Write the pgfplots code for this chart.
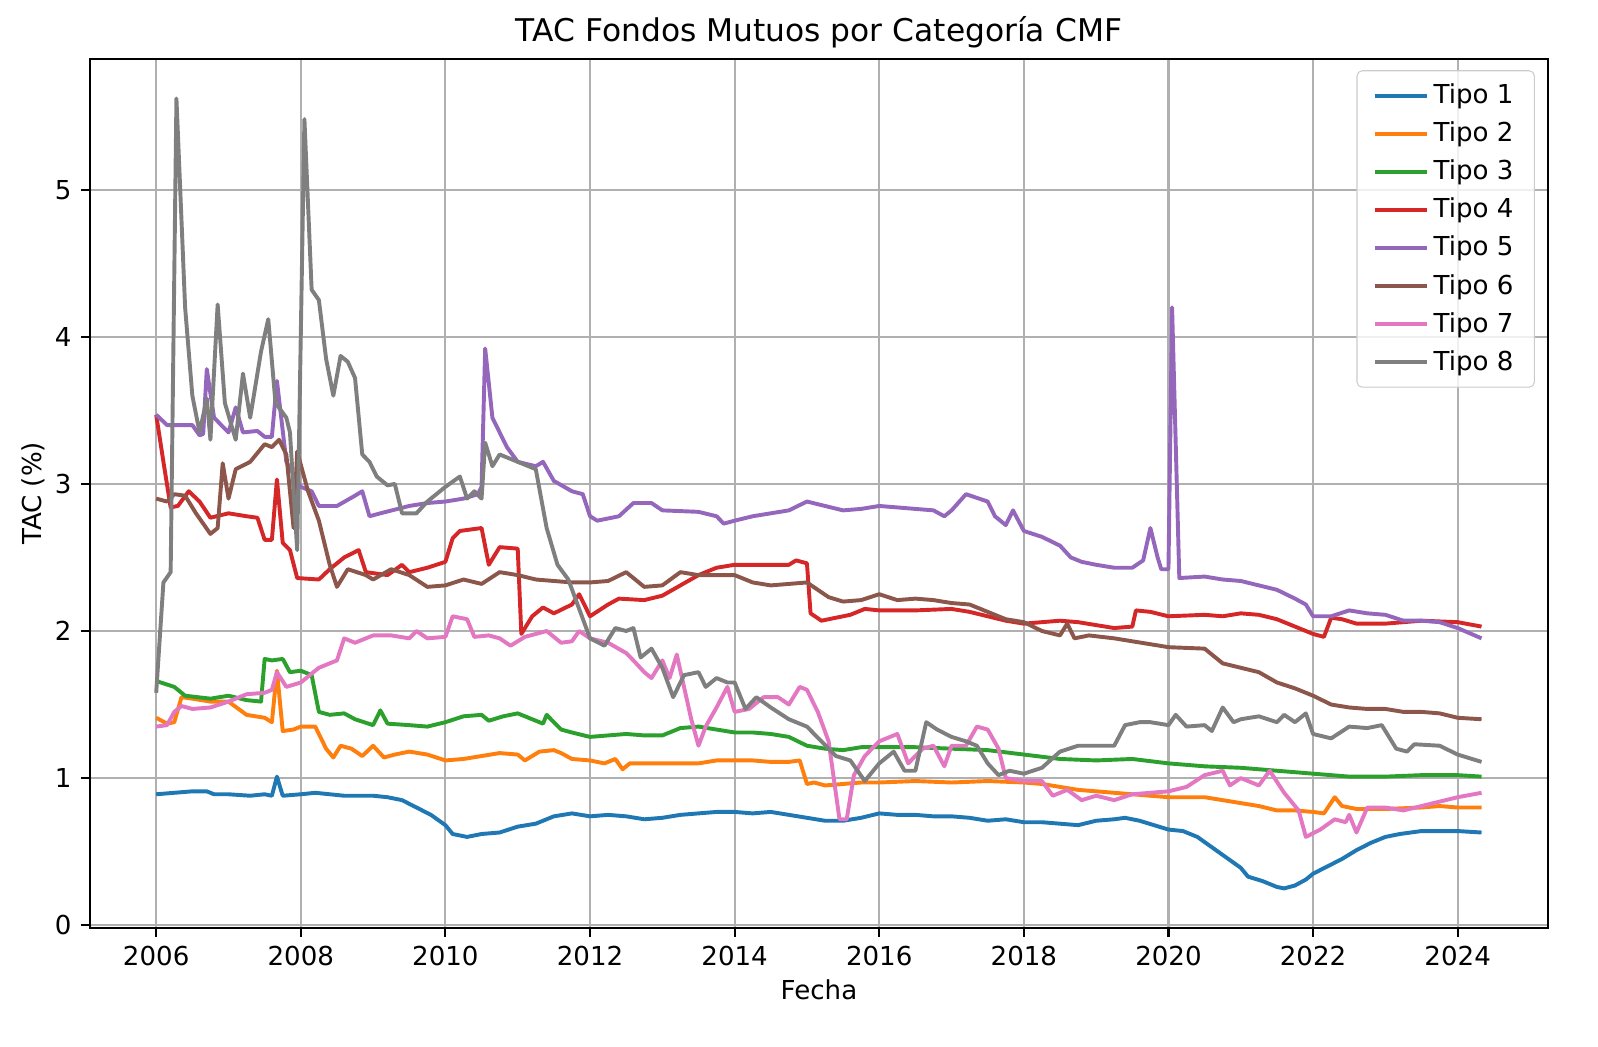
\documentclass[border=0pt]{standalone}
\usepackage{fontspec}
\setmainfont{DejaVu Sans}
\usepackage{pgfplots}
\pgfplotsset{compat=1.18}
\definecolor{c1}{HTML}{1F77B4}
\definecolor{c2}{HTML}{FF7F0E}
\definecolor{c3}{HTML}{2CA02C}
\definecolor{c4}{HTML}{D62728}
\definecolor{c5}{HTML}{9467BD}
\definecolor{c6}{HTML}{8C564B}
\definecolor{c7}{HTML}{E377C2}
\definecolor{c8}{HTML}{7F7F7F}
\definecolor{gridc}{HTML}{B0B0B0}
\begin{document}
\begin{tikzpicture}
\begin{axis}[
  scale only axis, width=7.733in, height=4.608in,
  xmin=2005.083, xmax=2025.25, ymin=-0.018, ymax=5.889,
  xtick={2006,2008,...,2024}, ytick={0,1,2,3,4,5},
  /pgf/number format/1000 sep={},
  /pgf/number format/assume math mode=true,
  tick label style={font=\fontsize{10}{12}\selectfont},
  tick align=outside, tick pos=left,
  major tick length=3.5pt,
  every tick/.style={black, line width=0.8pt},
  axis line style={line width=0.8pt},
  grid=major, major grid style={gridc, line width=0.8pt},
  title={TAC Fondos Mutuos por Categoría CMF},
  title style={font=\fontsize{12}{14}\selectfont, at={(0.5,1)}, anchor=base, yshift=0.5pt},
  xlabel={Fecha}, ylabel={TAC (\%)},
  label style={font=\fontsize{10}{12}\selectfont},
  xlabel style={yshift=1.5pt},
  ylabel style={yshift=-3pt},
  every axis plot/.append style={line width=1.5pt, line join=round},
  legend style={at={(0.991,0.987)}, anchor=north east, draw=black!20, rounded corners=2pt,
    fill=white, fill opacity=0.8, text opacity=1, font=\fontsize{10}{12}\selectfont,
    row sep=1.5pt, inner xsep=6pt, inner ysep=3pt},
  legend cell align=left,
  legend image code/.code={\draw[#1] (0cm,0cm) -- (0.7cm,0cm);},
]
\addplot[c1] coordinates {(2006.0,0.89)(2006.25,0.90)(2006.5,0.91)(2006.7,0.91)(2006.8,0.89)(2007.0,0.89)(2007.3,0.88)(2007.5,0.89)(2007.6,0.88)(2007.67,1.01)(2007.75,0.88)(2008.0,0.89)(2008.2,0.90)(2008.4,0.89)(2008.6,0.88)(2008.8,0.88)(2009.0,0.88)(2009.2,0.87)(2009.4,0.85)(2009.6,0.80)(2009.8,0.75)(2010.0,0.68)(2010.1,0.62)(2010.3,0.60)(2010.5,0.62)(2010.75,0.63)(2011.0,0.67)(2011.25,0.69)(2011.5,0.74)(2011.75,0.76)(2012.0,0.74)(2012.25,0.75)(2012.5,0.74)(2012.75,0.72)(2013.0,0.73)(2013.25,0.75)(2013.5,0.76)(2013.75,0.77)(2014.0,0.77)(2014.25,0.76)(2014.5,0.77)(2014.75,0.75)(2015.0,0.73)(2015.25,0.71)(2015.5,0.71)(2015.75,0.73)(2016.0,0.76)(2016.25,0.75)(2016.5,0.75)(2016.75,0.74)(2017.0,0.74)(2017.25,0.73)(2017.5,0.71)(2017.75,0.72)(2018.0,0.70)(2018.25,0.70)(2018.5,0.69)(2018.75,0.68)(2019.0,0.71)(2019.25,0.72)(2019.4,0.73)(2019.6,0.71)(2019.8,0.68)(2020.0,0.65)(2020.2,0.64)(2020.4,0.60)(2020.6,0.53)(2020.8,0.46)(2021.0,0.39)(2021.1,0.33)(2021.3,0.30)(2021.5,0.26)(2021.6,0.25)(2021.75,0.27)(2021.9,0.31)(2022.0,0.35)(2022.2,0.40)(2022.4,0.45)(2022.6,0.51)(2022.8,0.56)(2023.0,0.60)(2023.2,0.62)(2023.5,0.64)(2023.75,0.64)(2024.0,0.64)(2024.33,0.63)};
\addlegendentry{Tipo 1}
\addplot[c2] coordinates {(2006.0,1.41)(2006.15,1.37)(2006.25,1.38)(2006.35,1.55)(2006.5,1.54)(2006.75,1.52)(2007.0,1.52)(2007.25,1.43)(2007.5,1.41)(2007.6,1.38)(2007.67,1.73)(2007.75,1.32)(2007.9,1.33)(2008.0,1.35)(2008.2,1.35)(2008.35,1.20)(2008.45,1.14)(2008.55,1.22)(2008.7,1.20)(2008.85,1.15)(2009.0,1.22)(2009.15,1.14)(2009.3,1.16)(2009.5,1.18)(2009.75,1.16)(2010.0,1.12)(2010.25,1.13)(2010.5,1.15)(2010.75,1.17)(2011.0,1.16)(2011.1,1.12)(2011.3,1.18)(2011.5,1.19)(2011.6,1.17)(2011.75,1.13)(2012.0,1.12)(2012.2,1.10)(2012.35,1.13)(2012.45,1.06)(2012.55,1.10)(2012.75,1.10)(2013.0,1.10)(2013.25,1.10)(2013.5,1.10)(2013.75,1.12)(2014.0,1.12)(2014.25,1.12)(2014.5,1.11)(2014.75,1.11)(2014.9,1.12)(2015.0,0.96)(2015.1,0.97)(2015.25,0.95)(2015.5,0.96)(2015.75,0.97)(2016.0,0.97)(2016.5,0.98)(2017.0,0.97)(2017.5,0.98)(2018.0,0.97)(2018.25,0.96)(2018.5,0.94)(2018.75,0.92)(2019.0,0.91)(2019.5,0.89)(2020.0,0.87)(2020.5,0.87)(2020.75,0.85)(2021.0,0.83)(2021.25,0.81)(2021.5,0.78)(2021.75,0.78)(2022.0,0.77)(2022.15,0.76)(2022.3,0.87)(2022.4,0.81)(2022.6,0.79)(2023.0,0.79)(2023.5,0.80)(2023.75,0.81)(2024.0,0.80)(2024.33,0.80)};
\addlegendentry{Tipo 2}
\addplot[c3] coordinates {(2006.0,1.66)(2006.25,1.62)(2006.4,1.56)(2006.75,1.54)(2007.0,1.56)(2007.25,1.53)(2007.45,1.52)(2007.5,1.81)(2007.6,1.80)(2007.75,1.81)(2007.85,1.72)(2008.0,1.73)(2008.15,1.70)(2008.25,1.45)(2008.4,1.43)(2008.6,1.44)(2008.75,1.40)(2009.0,1.36)(2009.1,1.46)(2009.2,1.37)(2009.5,1.36)(2009.75,1.35)(2010.0,1.38)(2010.25,1.42)(2010.5,1.43)(2010.6,1.39)(2010.8,1.42)(2011.0,1.44)(2011.2,1.40)(2011.35,1.37)(2011.4,1.43)(2011.6,1.33)(2011.75,1.31)(2012.0,1.28)(2012.25,1.29)(2012.5,1.30)(2012.75,1.29)(2013.0,1.29)(2013.25,1.34)(2013.5,1.35)(2013.75,1.33)(2014.0,1.31)(2014.25,1.31)(2014.5,1.30)(2014.75,1.28)(2015.0,1.22)(2015.25,1.20)(2015.5,1.19)(2015.75,1.21)(2016.0,1.21)(2016.5,1.21)(2017.0,1.20)(2017.5,1.19)(2018.0,1.16)(2018.5,1.13)(2019.0,1.12)(2019.5,1.13)(2020.0,1.10)(2020.5,1.08)(2021.0,1.07)(2021.5,1.05)(2022.0,1.03)(2022.5,1.01)(2023.0,1.01)(2023.5,1.02)(2024.0,1.02)(2024.33,1.01)};
\addlegendentry{Tipo 3}
\addplot[c4] coordinates {(2006.0,3.47)(2006.1,3.15)(2006.2,2.84)(2006.3,2.85)(2006.45,2.95)(2006.6,2.88)(2006.75,2.77)(2007.0,2.80)(2007.25,2.78)(2007.4,2.77)(2007.5,2.62)(2007.6,2.62)(2007.67,3.03)(2007.75,2.60)(2007.85,2.55)(2007.95,2.36)(2008.25,2.35)(2008.4,2.42)(2008.6,2.50)(2008.8,2.55)(2008.9,2.40)(2009.2,2.38)(2009.4,2.45)(2009.5,2.40)(2009.75,2.43)(2010.0,2.47)(2010.1,2.63)(2010.2,2.68)(2010.5,2.70)(2010.6,2.45)(2010.75,2.57)(2011.0,2.56)(2011.05,1.98)(2011.2,2.10)(2011.35,2.16)(2011.5,2.12)(2011.75,2.18)(2011.85,2.25)(2012.0,2.10)(2012.25,2.18)(2012.4,2.22)(2012.75,2.21)(2013.0,2.24)(2013.25,2.31)(2013.5,2.38)(2013.75,2.43)(2014.0,2.45)(2014.5,2.45)(2014.75,2.45)(2014.85,2.48)(2015.0,2.46)(2015.05,2.12)(2015.2,2.07)(2015.4,2.09)(2015.6,2.11)(2015.8,2.15)(2016.0,2.14)(2016.5,2.14)(2017.0,2.15)(2017.25,2.13)(2017.5,2.10)(2017.75,2.07)(2018.0,2.05)(2018.25,2.06)(2018.5,2.07)(2018.75,2.06)(2019.0,2.04)(2019.25,2.02)(2019.5,2.03)(2019.55,2.14)(2019.75,2.13)(2020.0,2.10)(2020.5,2.11)(2020.75,2.10)(2021.0,2.12)(2021.25,2.11)(2021.5,2.08)(2021.75,2.03)(2022.0,1.98)(2022.15,1.96)(2022.25,2.09)(2022.4,2.08)(2022.6,2.05)(2023.0,2.05)(2023.5,2.07)(2024.0,2.06)(2024.33,2.03)};
\addlegendentry{Tipo 4}
\addplot[c5] coordinates {(2006.0,3.47)(2006.15,3.40)(2006.5,3.40)(2006.6,3.33)(2006.65,3.34)(2006.7,3.78)(2006.8,3.45)(2007.0,3.35)(2007.1,3.52)(2007.2,3.35)(2007.4,3.36)(2007.5,3.32)(2007.6,3.32)(2007.67,3.70)(2007.8,3.15)(2008.0,2.98)(2008.15,2.95)(2008.25,2.85)(2008.5,2.85)(2008.75,2.92)(2008.85,2.95)(2008.95,2.78)(2009.1,2.80)(2009.5,2.85)(2009.75,2.87)(2010.0,2.88)(2010.25,2.90)(2010.45,2.93)(2010.5,2.98)(2010.55,3.92)(2010.65,3.45)(2010.85,3.25)(2011.0,3.15)(2011.25,3.12)(2011.35,3.15)(2011.5,3.02)(2011.75,2.95)(2011.9,2.93)(2012.0,2.78)(2012.1,2.75)(2012.4,2.78)(2012.6,2.87)(2012.85,2.87)(2013.0,2.82)(2013.5,2.81)(2013.75,2.78)(2013.85,2.73)(2014.0,2.75)(2014.25,2.78)(2014.5,2.80)(2014.75,2.82)(2015.0,2.88)(2015.25,2.85)(2015.5,2.82)(2015.75,2.83)(2016.0,2.85)(2016.5,2.83)(2016.75,2.82)(2016.9,2.78)(2017.0,2.82)(2017.2,2.93)(2017.5,2.88)(2017.6,2.78)(2017.75,2.72)(2017.85,2.82)(2018.0,2.68)(2018.25,2.64)(2018.5,2.58)(2018.65,2.50)(2018.8,2.47)(2019.0,2.45)(2019.25,2.43)(2019.5,2.43)(2019.65,2.48)(2019.75,2.70)(2019.85,2.50)(2019.9,2.42)(2020.0,2.42)(2020.05,4.20)(2020.15,2.36)(2020.5,2.37)(2020.75,2.35)(2021.0,2.34)(2021.25,2.31)(2021.5,2.28)(2021.75,2.22)(2021.9,2.18)(2022.0,2.10)(2022.25,2.10)(2022.5,2.14)(2022.75,2.12)(2023.0,2.11)(2023.25,2.07)(2023.5,2.07)(2023.75,2.06)(2024.0,2.02)(2024.33,1.95)};
\addlegendentry{Tipo 5}
\addplot[c6] coordinates {(2006.0,2.90)(2006.15,2.88)(2006.25,2.93)(2006.4,2.92)(2006.55,2.80)(2006.75,2.66)(2006.85,2.70)(2006.92,3.14)(2007.0,2.90)(2007.1,3.10)(2007.3,3.15)(2007.5,3.27)(2007.6,3.25)(2007.7,3.30)(2007.8,3.20)(2007.9,2.70)(2007.95,3.22)(2008.1,2.95)(2008.25,2.75)(2008.4,2.45)(2008.5,2.30)(2008.65,2.42)(2008.9,2.38)(2009.0,2.35)(2009.25,2.42)(2009.5,2.38)(2009.75,2.30)(2010.0,2.31)(2010.25,2.35)(2010.5,2.32)(2010.75,2.40)(2011.0,2.38)(2011.25,2.35)(2011.5,2.34)(2011.75,2.33)(2012.0,2.33)(2012.25,2.34)(2012.5,2.40)(2012.75,2.30)(2013.0,2.31)(2013.25,2.40)(2013.5,2.38)(2013.75,2.38)(2014.0,2.38)(2014.25,2.33)(2014.5,2.31)(2014.75,2.32)(2015.0,2.33)(2015.15,2.28)(2015.3,2.23)(2015.5,2.20)(2015.75,2.21)(2016.0,2.25)(2016.25,2.21)(2016.5,2.22)(2016.75,2.21)(2017.0,2.19)(2017.25,2.18)(2017.5,2.13)(2017.75,2.08)(2018.0,2.06)(2018.25,2.00)(2018.5,1.97)(2018.6,2.05)(2018.7,1.95)(2018.9,1.97)(2019.25,1.95)(2019.5,1.93)(2019.75,1.91)(2020.0,1.89)(2020.5,1.88)(2020.75,1.78)(2021.0,1.75)(2021.25,1.72)(2021.5,1.65)(2021.75,1.61)(2022.0,1.56)(2022.25,1.50)(2022.5,1.48)(2022.75,1.47)(2023.0,1.47)(2023.25,1.45)(2023.5,1.45)(2023.75,1.44)(2024.0,1.41)(2024.33,1.40)};
\addlegendentry{Tipo 6}
\addplot[c7] coordinates {(2006.0,1.35)(2006.15,1.36)(2006.25,1.45)(2006.35,1.49)(2006.5,1.47)(2006.75,1.48)(2007.0,1.52)(2007.25,1.57)(2007.5,1.58)(2007.6,1.60)(2007.67,1.72)(2007.8,1.62)(2008.0,1.65)(2008.25,1.75)(2008.4,1.78)(2008.5,1.80)(2008.6,1.95)(2008.75,1.92)(2009.0,1.97)(2009.25,1.97)(2009.5,1.95)(2009.6,2.00)(2009.75,1.95)(2010.0,1.96)(2010.1,2.10)(2010.3,2.08)(2010.4,1.96)(2010.6,1.97)(2010.75,1.95)(2010.9,1.90)(2011.0,1.93)(2011.1,1.96)(2011.25,1.98)(2011.4,2.00)(2011.6,1.92)(2011.75,1.93)(2011.85,2.00)(2012.0,1.95)(2012.25,1.92)(2012.5,1.85)(2012.6,1.80)(2012.75,1.72)(2012.85,1.68)(2013.0,1.80)(2013.1,1.68)(2013.2,1.84)(2013.4,1.40)(2013.5,1.22)(2013.6,1.35)(2013.75,1.48)(2013.9,1.62)(2014.0,1.45)(2014.2,1.47)(2014.4,1.55)(2014.6,1.55)(2014.75,1.50)(2014.9,1.62)(2015.0,1.60)(2015.15,1.45)(2015.3,1.25)(2015.45,0.72)(2015.55,0.72)(2015.65,1.02)(2015.8,1.15)(2016.0,1.25)(2016.25,1.30)(2016.4,1.10)(2016.6,1.20)(2016.75,1.22)(2016.9,1.08)(2017.0,1.22)(2017.2,1.22)(2017.35,1.35)(2017.5,1.33)(2017.65,1.20)(2017.75,1.00)(2018.0,0.98)(2018.25,0.98)(2018.4,0.88)(2018.6,0.92)(2018.8,0.85)(2019.0,0.88)(2019.25,0.85)(2019.5,0.89)(2019.75,0.90)(2020.0,0.91)(2020.25,0.94)(2020.5,1.02)(2020.75,1.05)(2020.85,0.95)(2021.0,1.00)(2021.25,0.95)(2021.4,1.05)(2021.6,0.90)(2021.8,0.78)(2021.9,0.60)(2022.1,0.65)(2022.3,0.72)(2022.45,0.70)(2022.5,0.75)(2022.6,0.63)(2022.75,0.80)(2023.0,0.80)(2023.25,0.78)(2023.5,0.81)(2023.75,0.84)(2024.0,0.87)(2024.33,0.90)};
\addlegendentry{Tipo 7}
\addplot[c8] coordinates {(2006.0,1.58)(2006.1,2.33)(2006.2,2.40)(2006.28,5.62)(2006.4,4.20)(2006.5,3.60)(2006.6,3.35)(2006.7,3.58)(2006.75,3.30)(2006.85,4.22)(2006.95,3.55)(2007.1,3.30)(2007.2,3.75)(2007.3,3.45)(2007.45,3.90)(2007.55,4.12)(2007.65,3.55)(2007.8,3.45)(2007.85,3.35)(2007.95,2.55)(2008.05,5.48)(2008.15,4.32)(2008.25,4.25)(2008.35,3.85)(2008.45,3.60)(2008.55,3.87)(2008.65,3.83)(2008.75,3.72)(2008.85,3.20)(2008.95,3.15)(2009.05,3.05)(2009.2,2.99)(2009.3,3.00)(2009.4,2.80)(2009.6,2.80)(2009.75,2.88)(2010.0,2.98)(2010.2,3.05)(2010.3,2.90)(2010.4,2.95)(2010.5,2.90)(2010.55,3.28)(2010.65,3.12)(2010.75,3.20)(2011.0,3.15)(2011.25,3.10)(2011.4,2.70)(2011.55,2.45)(2011.7,2.35)(2011.85,2.15)(2012.0,1.95)(2012.2,1.90)(2012.35,2.02)(2012.5,2.00)(2012.6,2.02)(2012.7,1.82)(2012.85,1.88)(2013.0,1.75)(2013.15,1.55)(2013.3,1.70)(2013.5,1.72)(2013.6,1.62)(2013.75,1.68)(2013.9,1.65)(2014.0,1.65)(2014.15,1.47)(2014.3,1.55)(2014.5,1.48)(2014.75,1.40)(2015.0,1.35)(2015.2,1.25)(2015.4,1.15)(2015.6,1.12)(2015.8,0.98)(2016.0,1.10)(2016.2,1.18)(2016.35,1.05)(2016.5,1.05)(2016.65,1.38)(2016.8,1.33)(2017.0,1.28)(2017.2,1.25)(2017.35,1.22)(2017.5,1.10)(2017.65,1.02)(2017.8,1.05)(2018.0,1.03)(2018.25,1.07)(2018.5,1.18)(2018.75,1.22)(2019.0,1.22)(2019.25,1.22)(2019.4,1.36)(2019.6,1.38)(2019.75,1.38)(2020.0,1.36)(2020.1,1.43)(2020.25,1.35)(2020.5,1.36)(2020.6,1.32)(2020.75,1.48)(2020.9,1.38)(2021.0,1.40)(2021.25,1.42)(2021.5,1.38)(2021.6,1.43)(2021.75,1.38)(2021.9,1.44)(2022.0,1.30)(2022.25,1.27)(2022.5,1.35)(2022.75,1.34)(2022.95,1.36)(2023.15,1.20)(2023.3,1.18)(2023.4,1.23)(2023.75,1.22)(2024.0,1.16)(2024.33,1.11)};
\addlegendentry{Tipo 8}
\end{axis}
\pgfresetboundingbox
\path[use as bounding box] (-0.4767in,-0.6303in) rectangle (7.9979in,4.9205in);
\end{tikzpicture}
\end{document}
